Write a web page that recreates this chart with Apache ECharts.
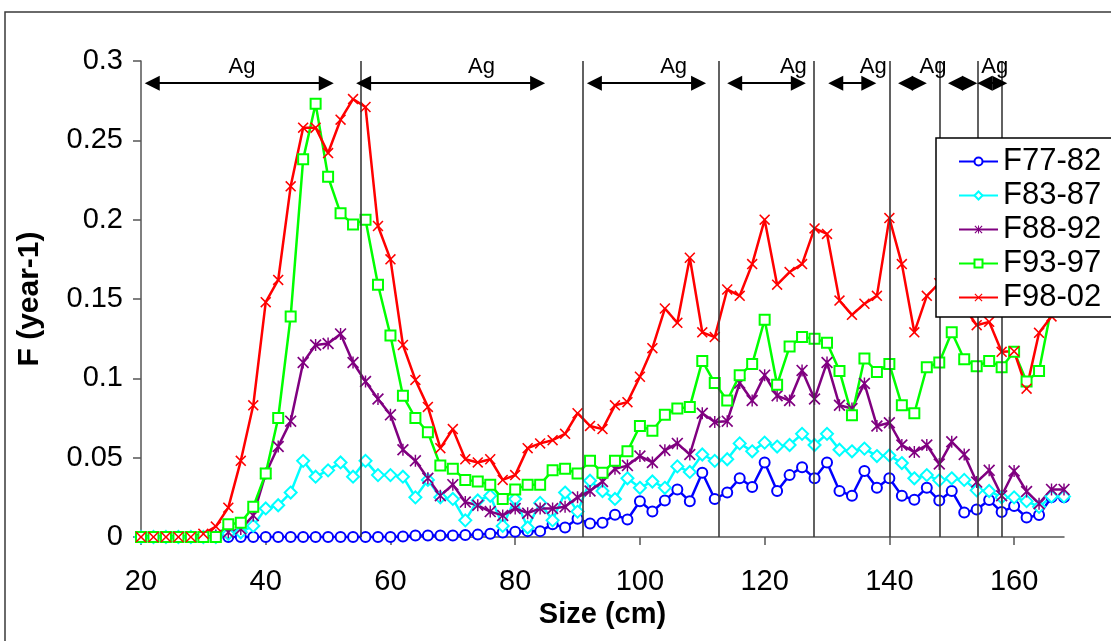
<!DOCTYPE html>
<html>
<head>
<meta charset="utf-8">
<script src="https://cdn.jsdelivr.net/npm/echarts@6/dist/echarts.min.js"></script>
<style>
  html, body { margin: 0; padding: 0; background: #fff; }
  #chart { width: 1111px; height: 641px; }
</style>
</head>
<body>
<div id="chart"></div>
<script>
// size classes (cm)
const sizes = [20, 22, 24, 26, 28, 30, 32, 34, 36, 38, 40, 42, 44, 46, 48, 50, 52, 54, 56, 58,
  60, 62, 64, 66, 68, 70, 72, 74, 76, 78, 80, 82, 84, 86, 88, 90, 92, 94, 96, 98,
  100, 102, 104, 106, 108, 110, 112, 114, 116, 118, 120, 122, 124, 126, 128, 130, 132, 134, 136, 138,
  140, 142, 144, 146, 148, 150, 152, 154, 156, 158, 160, 162, 164, 166, 168];

const f7782 = [0, 0, 0, 0, 0, 0, 0, 0, 0, 0, 0, 0, 0, 0, 0, 0, 0, 0, 0, 0,
  0, 0.0003, 0.001, 0.001, 0.001, 0.001, 0.0012, 0.0015, 0.002, 0.0028, 0.0033, 0.0037, 0.0037, 0.008, 0.006, 0.0115, 0.0085, 0.009, 0.014, 0.011,
  0.0225, 0.016, 0.023, 0.030, 0.0225, 0.0405, 0.024, 0.028, 0.037, 0.0315, 0.047, 0.029, 0.039, 0.044, 0.037, 0.047, 0.029, 0.026, 0.0416, 0.031,
  0.037, 0.026, 0.0235, 0.031, 0.023, 0.029, 0.0155, 0.0173, 0.0233, 0.0157, 0.0195, 0.0123, 0.0138, 0.025, 0.025];

const f8387 = [0, 0, 0, 0, 0, 0, 0, 0.002, 0.003, 0.007, 0.018, 0.020, 0.028, 0.048, 0.038, 0.042, 0.047, 0.038, 0.048, 0.039,
  0.039, 0.038, 0.025, 0.036, 0.025, 0.024, 0.0105, 0.023, 0.026, 0.007, 0.024, 0.006, 0.0215, 0.0105, 0.028, 0.016, 0.0355, 0.029, 0.024, 0.037,
  0.031, 0.035, 0.031, 0.0445, 0.041, 0.052, 0.048, 0.049, 0.059, 0.054, 0.0595, 0.057, 0.058, 0.065, 0.058, 0.065, 0.055, 0.054, 0.0557, 0.051,
  0.0514, 0.0466, 0.037, 0.039, 0.0357, 0.037, 0.036, 0.0294, 0.029, 0.025, 0.025, 0.0226, 0.019, 0.0256, 0.0256];

const f8892 = [0, 0, 0, 0, 0, 0, 0.001, 0.003, 0.005, 0.0135, 0.040, 0.057, 0.073, 0.110, 0.121, 0.122, 0.128, 0.110, 0.098, 0.087,
  0.077, 0.055, 0.048, 0.037, 0.026, 0.033, 0.022, 0.020, 0.016, 0.0136, 0.018, 0.015, 0.018, 0.018, 0.019, 0.025, 0.029, 0.035, 0.043, 0.045,
  0.051, 0.047, 0.0546, 0.059, 0.052, 0.078, 0.0725, 0.073, 0.097, 0.086, 0.102, 0.089, 0.086, 0.105, 0.087, 0.110, 0.083, 0.081, 0.0967, 0.070,
  0.072, 0.058, 0.0535, 0.058, 0.046, 0.060, 0.052, 0.0346, 0.042, 0.026, 0.0416, 0.0287, 0.021, 0.030, 0.030];

const f9397 = [0, 0, 0, 0, 0, 0, 0, 0.008, 0.009, 0.019, 0.040, 0.075, 0.139, 0.238, 0.273, 0.227, 0.204, 0.197, 0.200, 0.159,
  0.127, 0.089, 0.075, 0.066, 0.045, 0.043, 0.036, 0.035, 0.033, 0.024, 0.030, 0.033, 0.033, 0.042, 0.043, 0.040, 0.048, 0.0405, 0.048, 0.054,
  0.070, 0.067, 0.077, 0.081, 0.082, 0.111, 0.097, 0.086, 0.102, 0.109, 0.137, 0.096, 0.120, 0.126, 0.125, 0.1225, 0.1047, 0.0767, 0.1125, 0.104,
  0.109, 0.083, 0.078, 0.107, 0.110, 0.129, 0.112, 0.1076, 0.111, 0.107, 0.1167, 0.098, 0.1047, 0.145, 0.155];

const f9802 = [0, 0, 0, 0, 0, 0.002, 0.0066, 0.0185, 0.048, 0.083, 0.148, 0.162, 0.221, 0.258, 0.258, 0.242, 0.263, 0.276, 0.271, 0.196,
  0.175, 0.121, 0.099, 0.082, 0.056, 0.068, 0.049, 0.047, 0.049, 0.036, 0.039, 0.056, 0.059, 0.061, 0.065, 0.078, 0.070, 0.068, 0.083, 0.085,
  0.101, 0.119, 0.144, 0.135, 0.176, 0.129, 0.126, 0.156, 0.152, 0.172, 0.200, 0.159, 0.167, 0.172, 0.1945, 0.191, 0.149, 0.140, 0.147, 0.152,
  0.201, 0.172, 0.129, 0.152, 0.160, 0.150, 0.145, 0.1335, 0.1356, 0.1167, 0.117, 0.0935, 0.1287, 0.139, 0.155];

const seriesNames = ["F77-82", "F83-87", "F88-92", "F93-97", "F98-02"];

// age-group separators and arrows
const groupLines = [55.3, 90.9, 112.7, 127.8, 140, 148, 154.1, 158];
const arrowStart = [21.8, 55.7, 92.7, 115.2, 131.4, 142.6, 150.6, 155.3];
const arrowEnd = [49.7, 83.6, 109.4, 125.4, 136.7, 144.8, 152.9, 157.7];
const arrowLevel = 0.286;
const agLabelX = [36.2, 74.6, 105.4, 124.6, 137.4, 147.0, 156.9, 161.4];
const agLabelY = [0.2965, 0.2965, 0.2965, 0.2965, 0.2965, 0.2965, 0.2965, 0.308];

const yTicks = [0, 0.05, 0.1, 0.15, 0.2, 0.25, 0.3];
const xTicks = [20, 40, 60, 80, 100, 120, 140, 160];

const FONT = "'Liberation Sans', Arial, sans-serif";

// marker paths
const crossPath = "path://M0,1 L1,0 L5,4 L9,0 L10,1 L6,5 L10,9 L9,10 L5,6 L1,10 L0,9 L4,5 Z";
const starPath = "path://M0,1 L1,0 L5,4 L9,0 L10,1 L6,5 L10,9 L9,10 L5,6 L1,10 L0,9 L4,5 Z M4.4,0 L5.6,0 L5.6,10 L4.4,10 Z";

const seriesStyle = [
  { color: "#0000FF", symbol: "emptyCircle", size: 10 },
  { color: "#00FFFF", symbol: "emptyDiamond", size: 12 },
  { color: "#800080", symbol: starPath, size: 12 },
  { color: "#00FF00", symbol: "emptyRect", size: 10 },
  { color: "#FF0000", symbol: crossPath, size: 11 },
];
const seriesValues = [f7782, f8387, f8892, f9397, f9802];

const pairs = (vals) => sizes.map((s, i) => [s, vals[i]]);

let myChart = echarts.init(document.getElementById("chart"));

const dataSeries = seriesNames.map((name, k) => ({
  name: name,
  type: "line",
  data: pairs(seriesValues[k]),
  symbol: seriesStyle[k].symbol,
  symbolSize: seriesStyle[k].size,
  showAllSymbol: true,
  lineStyle: { color: seriesStyle[k].color, width: 2.5 },
  itemStyle: { color: seriesStyle[k].color, borderWidth: 1.5 },
  z: 3,
}));

// annotation layer: separators, arrows, "Ag" labels
const annotations = {
  name: "annotations",
  type: "line",
  data: [],
  clip: false,
  z: 2,
  markLine: {
    silent: true,
    animation: false,
    symbol: "none",
    label: { show: false },
    lineStyle: { color: "#000", width: 2, type: "solid" },
    itemStyle: { color: "#000" },
    data: [
      ...groupLines.map((x) => ({
        xAxis: x,
        lineStyle: { color: "#3a3a3a", width: 1.6, type: "solid" },
      })),
      ...arrowStart.map((x, i) => [
        { coord: [x, arrowLevel], symbol: "triangle", symbolSize: [15, 15] },
        { coord: [arrowEnd[i], arrowLevel], symbol: "triangle", symbolSize: [15, 15] },
      ]),
    ],
  },
  markPoint: {
    silent: true,
    animation: false,
    symbol: "rect",
    symbolSize: 1,
    itemStyle: { color: "rgba(0,0,0,0)" },
    label: {
      show: true,
      position: "inside",
      formatter: "Ag",
      color: "#000",
      fontSize: 22,
      fontFamily: FONT,
    },
    data: agLabelX.map((x, i) => ({ coord: [x, agLabelY[i]] })),
  },
};

const option = {
  animation: false,
  backgroundColor: "#fff",
  graphic: [
    {
      // outer chart frame, open on the right and bottom (cut off in the picture)
      type: "polyline",
      silent: true,
      shape: { points: [[5, 700], [5, 12], [1200, 12]] },
      style: { fill: null, stroke: "#3a3a3a", lineWidth: 1.5 },
    },
    {
      type: "rect",
      z: 10,
      silent: true,
      shape: { x: 936, y: 138, width: 300, height: 179 },
      style: { fill: "#fff", stroke: null },
    },
    {
      // legend frame runs past the right edge of the picture
      type: "polyline",
      z: 11,
      silent: true,
      shape: { points: [[1300, 138], [936, 138], [936, 317], [1300, 317]] },
      style: { fill: null, stroke: "#000", lineWidth: 1.5 },
    },
  ],
  legend: {
    data: seriesNames,
    orient: "vertical",
    left: 936,
    top: 138,
    z: 20,
    padding: [8, 0, 4, 22],
    borderWidth: 0,
    itemGap: 3,
    itemWidth: 39,
    itemHeight: 10,
    textStyle: { fontSize: 31, color: "#000", fontFamily: FONT },
  },
  grid: {
    left: 141,
    right: 47,
    top: 61,
    bottom: 104,
    containLabel: false,
  },
  xAxis: {
    type: "value",
    min: 20,
    max: 168,
    interval: 20,
    name: "Size (cm)",
    nameLocation: "middle",
    nameGap: 62,
    nameTextStyle: { fontSize: 29, fontWeight: "bold", color: "#000", fontFamily: FONT },
    axisLine: { lineStyle: { color: "#555", width: 1.5 } },
    axisTick: { show: true, length: 8, customValues: xTicks, lineStyle: { color: "#555", width: 1.5 } },
    axisLabel: { customValues: xTicks, fontSize: 29, color: "#000", margin: 30, fontFamily: FONT },
    splitLine: { show: false },
  },
  yAxis: {
    type: "value",
    min: 0,
    max: 0.3,
    interval: 0.05,
    name: "F (year-1)",
    nameLocation: "middle",
    nameGap: 96,
    nameRotate: 90,
    nameTextStyle: { fontSize: 30, fontWeight: "bold", color: "#000", fontFamily: FONT },
    axisLine: { show: true, lineStyle: { color: "#555", width: 1.5 } },
    axisTick: { show: true, length: 8, lineStyle: { color: "#555", width: 1.5 } },
    axisLabel: {
      customValues: yTicks,
      fontSize: 29,
      color: "#000",
      margin: 18,
      fontFamily: FONT,
      formatter: (v) => String(v),
    },
    splitLine: { show: false },
  },
  series: [annotations, ...dataSeries],
};

myChart.setOption(option);

window.addEventListener("resize", () => {
  myChart.resize();
});
</script>
</body>
</html>
